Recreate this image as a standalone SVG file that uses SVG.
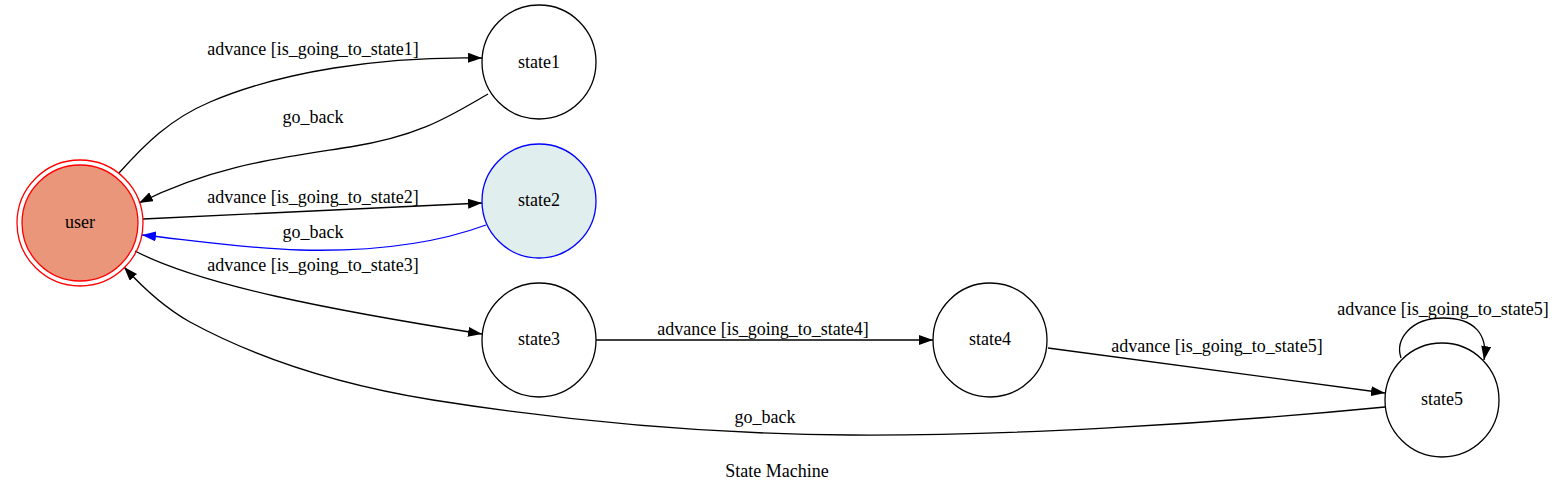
<svg xmlns="http://www.w3.org/2000/svg" width="1555" height="493" viewBox="0 0 1555 493">
<style>
text { font-family: "Liberation Serif", "Times New Roman", serif; font-size: 18px; fill: #000; text-anchor: middle; }
.node { fill: #fff; stroke: #000; stroke-width: 1.3; }
.edge { fill: none; stroke: #000; stroke-width: 1.3; }
.blue { stroke: #0000ff; }
</style>
<defs>
<marker id="arr" markerUnits="userSpaceOnUse" markerWidth="14" markerHeight="10" refX="14" refY="5" orient="auto">
<path d="M0,0 L14,5 L0,10 z" fill="#000"/>
</marker>
<marker id="arrb" markerUnits="userSpaceOnUse" markerWidth="14" markerHeight="10" refX="14" refY="5" orient="auto">
<path d="M0,0 L14,5 L0,10 z" fill="#0000ff"/>
</marker>
</defs>
<rect width="1555" height="493" fill="#fff"/>
<g id="connectors">
<g id="e-user-state1"><path class="edge" marker-end="url(#arr)" d="M119,173 C145,144 170,119 210,102 C280,72 380,56 482,58"/><text x="313" y="55">advance [is_going_to_state1]</text></g>
<g id="e-state1-user"><path class="edge" marker-end="url(#arr)" d="M488,94 C450,116 420,136 350,147 C280,158 215,165 139,203"/><text x="313" y="123">go_back</text></g>
<g id="e-user-state2"><path class="edge" marker-end="url(#arr)" d="M143,219 L482,203"/><text x="313" y="203">advance [is_going_to_state2]</text></g>
<g id="e-state2-user"><path class="edge blue" marker-end="url(#arrb)" d="M486,225 C440,242 380,252 300,250 C240,248 190,240 142,235"/><text x="313" y="238">go_back</text></g>
<g id="e-user-state3"><path class="edge" marker-end="url(#arr)" d="M135,251 C200,285 330,310 482,334"/><text x="313" y="271">advance [is_going_to_state3]</text></g>
<g id="e-state3-state4"><path class="edge" marker-end="url(#arr)" d="M596,340 L933,340"/><text x="763" y="335">advance [is_going_to_state4]</text></g>
<g id="e-state4-state5"><path class="edge" marker-end="url(#arr)" d="M1048,348 L1385,393"/><text x="1217" y="352">advance [is_going_to_state5]</text></g>
<g id="e-state5-state5"><path class="edge" marker-end="url(#arr)" d="M1401,358 C1395,340 1410,318 1443,318 C1475,318 1488,335 1484,360"/><text x="1443" y="315">advance [is_going_to_state5]</text></g>
<g id="e-state5-user"><path class="edge" marker-end="url(#arr)" d="M1385,407 C1200,425 1000,436 850,435 C700,434 560,420 433,400 C340,385 260,360 190,322 C165,308 145,290 124,267"/><text x="765" y="423">go_back</text></g>
</g>
<g id="user"><circle cx="80" cy="223" r="63" fill="none" stroke="#ff0000" stroke-width="1.3"/><circle cx="80" cy="223" r="58" fill="#e9967a" stroke="#ff0000" stroke-width="1.3"/><text x="80" y="228">user</text></g>
<g id="state1"><circle class="node" cx="539" cy="62" r="57"/><text x="539" y="68">state1</text></g>
<g id="state2"><circle cx="539" cy="201" r="57" fill="#e0eeee" stroke="#0000ff" stroke-width="1.3"/><text x="539" y="206">state2</text></g>
<g id="state3"><circle class="node" cx="539" cy="340" r="57"/><text x="539" y="345">state3</text></g>
<g id="state4"><circle class="node" cx="990" cy="340" r="57"/><text x="990" y="345">state4</text></g>
<g id="state5"><circle class="node" cx="1442" cy="400" r="57"/><text x="1442" y="405">state5</text></g>
<text x="777" y="477">State Machine</text>
</svg>
